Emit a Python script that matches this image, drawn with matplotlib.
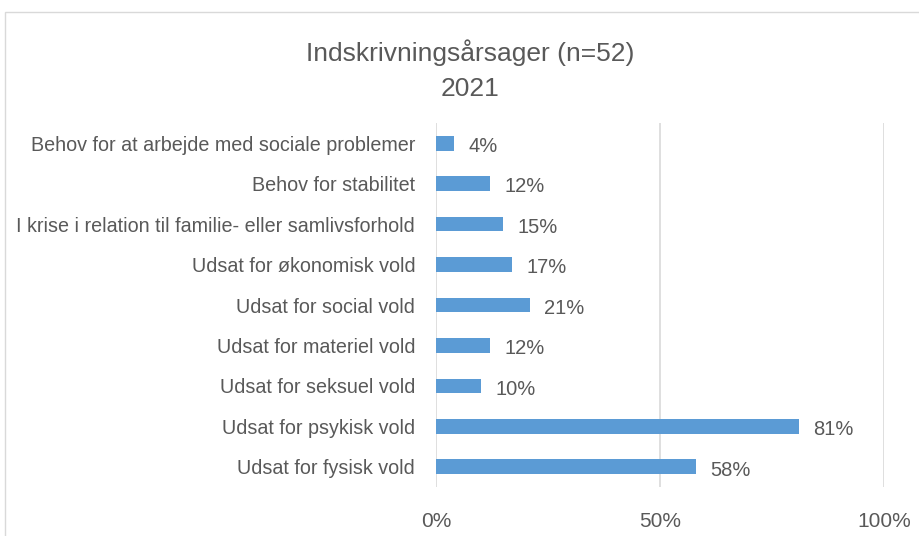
import matplotlib
matplotlib.use("Agg")
import matplotlib.pyplot as plt
from matplotlib.patches import Rectangle
from matplotlib.ticker import FuncFormatter

categories = [
    "Behov for at arbejde med sociale problemer",
    "Behov for stabilitet",
    "I krise i relation til familie- eller samlivsforhold",
    "Udsat for økonomisk vold",
    "Udsat for social vold",
    "Udsat for materiel vold",
    "Udsat for seksuel vold",
    "Udsat for psykisk vold",
    "Udsat for fysisk vold",
]
values = [0.04, 0.12, 0.15, 0.17, 0.21, 0.12, 0.10, 0.81, 0.58]
title = "Indskrivningsårsager (n=52)\n2021"

text_col = "#595959"
plt.rcParams['font.family'] = ['Liberation Sans', 'DejaVu Sans']

W, H = 919, 536
fig = plt.figure(figsize=(W / 100, H / 100), dpi=100)
ax = fig.add_axes((436 / W, 1 - 487 / H, (884 - 436) / W, (487 - 123) / H))

# light frame round the chart, cut off at right and bottom
fig.patches.append(Rectangle((5 / W, -0.1), 1.2, 1 - 12 / H + 0.1, transform=fig.transFigure,
                             fill=False, edgecolor="#D9D9D9", linewidth=1))

y = list(range(len(categories)))[::-1]
bars = ax.barh(y, values, height=0.36, color="#5B9BD5", zorder=3)
for yy, v in zip(y, values):
    ax.text(v + 0.032, yy - 0.08, f"{round(v * 100)}%", va="center", ha="left",
            fontsize=14.5, color=text_col)

ax.set_xlim(0, 1)
ax.set_ylim(-0.5, len(categories) - 0.5)
ax.set_xticks([0, 0.5, 1])
ax.xaxis.set_major_formatter(FuncFormatter(lambda v, p: f"{round(v * 100)}%"))
ax.set_yticks(y)
ax.set_yticklabels(categories)
ax.grid(axis="x", color="#D9D9D9", linewidth=1.2, zorder=0)
for s in ax.spines.values():
    s.set_visible(False)
ax.tick_params(axis="both", length=0, colors=text_col)
ax.tick_params(axis="y", labelsize=14.2, pad=15)
ax.tick_params(axis="x", labelsize=15, pad=18)

fig.text(470 / W, 1 - 70 / H, title, ha="center", va="center", fontsize=19,
         color=text_col, linespacing=1.55)

fig.savefig("out.png", dpi=100)
